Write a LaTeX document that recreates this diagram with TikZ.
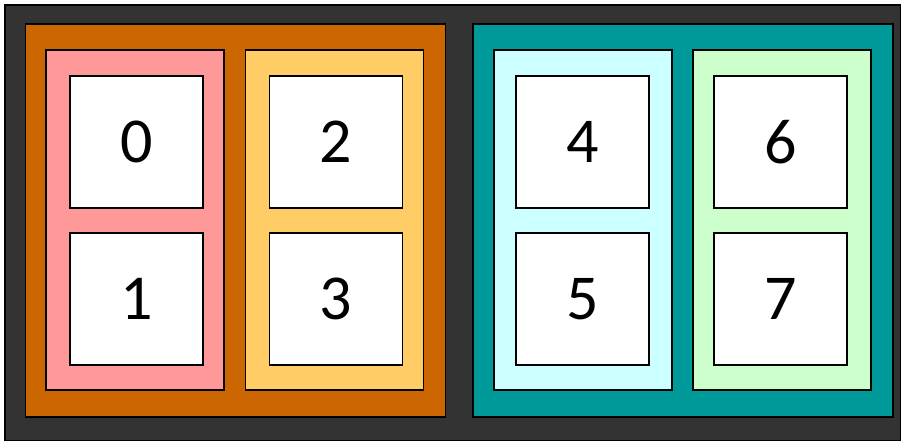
\documentclass[tikz,border=0pt]{standalone}
\usepackage{fontspec}
\setsansfont{Carlito}
\usetikzlibrary{positioning}
\definecolor{FrameBg} {RGB}{51,51,51}
\definecolor{GrpOrange}{RGB}{204,102,0}
\definecolor{GrpTeal} {RGB}{0,153,153}
\definecolor{SubPink} {RGB}{255,153,153}
\definecolor{SubYellow}{RGB}{255,204,102}
\definecolor{SubCyan} {RGB}{204,255,255}
\definecolor{SubGreen}{RGB}{204,255,204}
\tikzset{
  nd_frame/.style={rectangle,draw=black,line width=1.2pt,fill=FrameBg,minimum width=896pt,minimum height=436pt,inner sep=0pt},
  nd_grp/.style={rectangle,draw=black,line width=1.2pt,minimum width=420pt,minimum height=393pt,inner sep=0pt},
  nd_sub/.style={rectangle,draw=black,line width=1.2pt,minimum width=178pt,minimum height=340pt,inner sep=0pt},
  nd_cell/.style={rectangle,draw=black,line width=1.2pt,fill=white,minimum width=133pt,minimum height=132pt,inner sep=0pt,
    font=\sffamily\fontsize{64}{68}\selectfont},
}

\begin{document}
\begin{tikzpicture}[x=1pt,y=-1pt]
\useasboundingbox (0,0) rectangle (901,441);
\def\rA{142}\def\rB{299}
\node[nd_frame] at (453,223)(F){};
% groups
\node[nd_grp,fill=GrpOrange] at (235.3,220.5)(G1){};
\node[nd_grp,fill=GrpTeal]   at (683,220.5)(G2){};
% sub groups
\node[nd_sub,fill=SubPink]   at (135,220)(P1){};
\node[nd_sub,fill=SubYellow] at (334.6,220)(P2){};
\node[nd_sub,fill=SubCyan]   at (583,220)(P3){};
\node[nd_sub,fill=SubGreen]  at (782,220)(P4){};
% cells
\foreach \x/\a/\b in {136.5/0/1,336/2/3,582.5/4/5,780.5/6/7}{
  \node[nd_cell] at (\x,\rA)(C\a){\raisebox{-2pt}{\a}};
  \node[nd_cell] at (\x,\rB)(C\b){\raisebox{-2pt}{\b}};
}
\end{tikzpicture}
\end{document}
